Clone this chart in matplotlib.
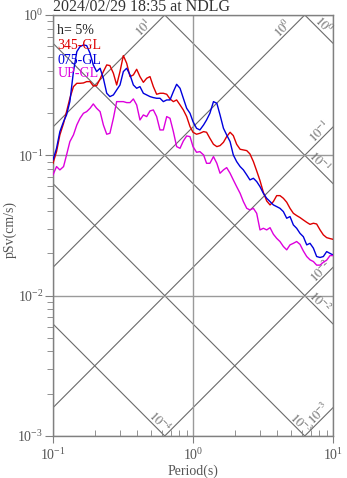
import numpy as np
import matplotlib
matplotlib.use("Agg")
import matplotlib.pyplot as plt
from matplotlib.ticker import LogLocator, NullFormatter

plt.rcParams['font.family'] = ['Liberation Serif', 'DejaVu Serif']
plt.rcParams['mathtext.fontset'] = 'stix'

# 周期 (s)
period = [
    0.1, 0.106, 0.112, 0.119, 0.125, 0.132, 0.14, 0.148, 0.156, 0.165,
    0.174, 0.184, 0.194, 0.205, 0.217, 0.229, 0.242, 0.255, 0.27, 0.285,
    0.301, 0.318, 0.336, 0.355, 0.375, 0.396, 0.418, 0.442, 0.467, 0.493,
    0.521, 0.55, 0.581, 0.614, 0.649, 0.685, 0.724, 0.764, 0.808, 0.853,
    0.901, 0.952, 1.0, 1.06, 1.12, 1.19, 1.25, 1.32, 1.4, 1.48,
    1.56, 1.65, 1.74, 1.84, 1.94, 2.05, 2.17, 2.29, 2.42, 2.55,
    2.7, 2.85, 3.01, 3.18, 3.36, 3.55, 3.75, 3.96, 4.18, 4.42,
    4.67, 4.93, 5.21, 5.5, 5.81, 6.14, 6.49, 6.85, 7.24, 7.64,
    8.08, 8.53, 9.01, 9.52, 10.0,
]

# 擬似速度応答 pSv (cm/s), h=5%
sv_345 = [
    0.0877, 0.1062, 0.1397, 0.1691, 0.2048, 0.2549, 0.3085, 0.3259, 0.3259, 0.3277,
    0.3350, 0.3350, 0.3119, 0.3137, 0.3501, 0.3949, 0.4405, 0.4357, 0.3842, 0.3171,
    0.3949, 0.5133, 0.4527, 0.3637, 0.3738, 0.4102, 0.3637, 0.3313, 0.3539, 0.3637,
    0.3085, 0.2722, 0.2767, 0.2767, 0.2722, 0.2521, 0.2413, 0.2480, 0.2285, 0.2105,
    0.1887, 0.1601, 0.1459, 0.1413, 0.1435, 0.1475, 0.1459, 0.1322, 0.1198, 0.1153,
    0.1172, 0.1238, 0.1359, 0.1459, 0.1382, 0.1198, 0.1104, 0.1092, 0.1080, 0.1023,
    0.0902, 0.0774, 0.0660, 0.0545, 0.0473, 0.0443, 0.0468, 0.0516, 0.0516, 0.0494,
    0.0463, 0.0419, 0.0386, 0.0372, 0.0360, 0.0346, 0.0333, 0.0322, 0.0328, 0.0324,
    0.0294, 0.0271, 0.0259, 0.0255, 0.0252,
]
sv_075 = [
    0.0927, 0.1122, 0.1475, 0.1738, 0.1939, 0.2413, 0.3949, 0.5481, 0.5951, 0.6115,
    0.6049, 0.5334, 0.4405, 0.3949, 0.4171, 0.3539, 0.2767, 0.2620, 0.2692, 0.2921,
    0.3171, 0.3949, 0.4171, 0.3738, 0.3171, 0.3003, 0.3085, 0.2767, 0.2692, 0.2620,
    0.2577, 0.2549, 0.2549, 0.2413, 0.2480, 0.2480, 0.2843, 0.3206, 0.3003, 0.2549,
    0.2163, 0.1993, 0.1738, 0.1558, 0.1516, 0.1646, 0.1786, 0.1993, 0.2413, 0.2348,
    0.1939, 0.1558, 0.1397, 0.1252, 0.1006, 0.0902, 0.0831, 0.0787, 0.0725, 0.0668,
    0.0686, 0.0650, 0.0598, 0.0536, 0.0494, 0.0468, 0.0443, 0.0431, 0.0419, 0.0397,
    0.0356, 0.0366, 0.0319, 0.0302, 0.0278, 0.0263, 0.0230, 0.0236, 0.0218, 0.0190,
    0.0187, 0.0190, 0.0206, 0.0200, 0.0195,
]
sv_up = [
    0.0725, 0.0831, 0.0787, 0.0831, 0.1006, 0.1252, 0.1397, 0.1646, 0.1836, 0.1993,
    0.2048, 0.2163, 0.2323, 0.2163, 0.2048, 0.1646, 0.1413, 0.1435, 0.1836, 0.2413,
    0.2413, 0.2413, 0.2374, 0.2374, 0.2521, 0.2285, 0.1786, 0.1939, 0.1887, 0.2071,
    0.2105, 0.1887, 0.1516, 0.1516, 0.1887, 0.1836, 0.1475, 0.1153, 0.1122, 0.1265,
    0.1374, 0.1359, 0.1153, 0.1051, 0.1062, 0.1006, 0.0877, 0.0877, 0.0979, 0.0877,
    0.0745, 0.0787, 0.0817, 0.0745, 0.0668, 0.0598, 0.0536, 0.0468, 0.0419, 0.0408,
    0.0419, 0.0386, 0.0294, 0.0302, 0.0294, 0.0305, 0.0274, 0.0256, 0.0243, 0.0224,
    0.0212, 0.0230, 0.0236, 0.0243, 0.0232, 0.0208, 0.0190, 0.0180, 0.0175, 0.0165,
    0.0165, 0.0173, 0.0179, 0.0193, 0.0193,
]

# 補助線: 加速度 (cm/s^2) と変位 (cm)
acc_levels = [10, 1, 0.1, 0.01, 0.001]
acc_exps = [1, 0, -1, -2, -3]
acc_label_t = [0.477, 4.69, 8.63, 8.77, 8.48]
disp_levels = [1, 0.1, 0.01, 0.001, 0.0001]
disp_exps = [0, -1, -2, -3, -4]
disp_label_t = [7.94, 7.44, 7.44, 5.49, 0.535]

RED = '#dd0000'
BLUE = '#0000dd'
MAG = '#dd00dd'
GUIDE = '#6a6a6a'

fig = plt.figure(figsize=(3.47, 4.78), dpi=100)
ax = fig.add_axes([0.1527, 0.0879, 0.807, 0.8808])
ax.set_xscale('log')
ax.set_yscale('log')
ax.set_xlim(0.1, 10)
ax.set_ylim(1e-3, 1)

t_edge = np.array([0.1, 10.0])
w = 2 * np.pi
off = 2.9  # ラベルを線から離す量 (pt)
for a, e, tl in zip(acc_levels, acc_exps, acc_label_t):
    ax.plot(t_edge, a * t_edge / w, color=GUIDE, lw=0.8, zorder=1)
    ax.annotate(f'$10^{{{e}}}$', (tl, a * tl / w), xytext=(-off, off),
                textcoords='offset points', rotation=45, rotation_mode='anchor',
                ha='center', va='center', fontsize=9, color=GUIDE,
                annotation_clip=False)
for d, e, tl in zip(disp_levels, disp_exps, disp_label_t):
    ax.plot(t_edge, w * d / t_edge, color=GUIDE, lw=0.8, zorder=1)
    ax.annotate(f'$10^{{{e}}}$', (tl, w * d / tl), xytext=(off, off),
                textcoords='offset points', rotation=-45, rotation_mode='anchor',
                ha='center', va='center', fontsize=9, color=GUIDE,
                annotation_clip=False)

ax.grid(True, which='major', color='#9a9a9a', lw=1.0, zorder=0)

ax.plot(period, sv_345, color=RED, lw=1.0, zorder=3)
ax.plot(period, sv_075, color=BLUE, lw=1.0, zorder=3)
ax.plot(period, sv_up, color=MAG, lw=1.0, zorder=3)

# 凡例代わりのテキスト
ax.text(0.015, 0.962, 'h= 5%', transform=ax.transAxes, fontsize=10, color='#222222', va='center')
ax.text(0.015, 0.928, '345-GL', transform=ax.transAxes, fontsize=10, color=RED, va='center')
ax.text(0.015, 0.893, '075-GL', transform=ax.transAxes, fontsize=10, color=BLUE, va='center')
ax.text(0.015, 0.86, 'UP-GL', transform=ax.transAxes, fontsize=10, color=MAG, va='center')

ax.set_title('2024/02/29 18:35 at NDLG', loc='left', fontsize=11.5, color='#333333', pad=2)
ax.set_xlabel('Period(s)', fontsize=10, color='#555555', labelpad=1)
ax.set_ylabel('pSv(cm/s)', fontsize=10, color='#555555', va='center')
ax.yaxis.set_label_coords(-0.152, 0.49)

ax.xaxis.set_major_locator(LogLocator(base=10, numticks=10))
ax.xaxis.set_minor_locator(LogLocator(base=10, subs=np.arange(2, 10), numticks=10))
ax.yaxis.set_minor_locator(LogLocator(base=10, subs=np.arange(2, 10), numticks=10))
ax.xaxis.set_minor_formatter(NullFormatter())
ax.yaxis.set_minor_formatter(NullFormatter())
ax.tick_params(axis='x', which='major', direction='out', length=5, color='#808080',
               labelsize=10, labelcolor='#555555', pad=3)
ax.tick_params(axis='x', which='minor', direction='in', length=4, color='#808080')
ax.tick_params(axis='y', which='major', direction='out', length=6, color='#808080',
               labelsize=10, labelcolor='#555555', pad=1)
ax.tick_params(axis='y', which='minor', direction='out', length=4, color='#808080')
for s in ax.spines.values():
    s.set_color('#808080')
    s.set_linewidth(1.0)

fig.savefig('out.png', dpi=100)
